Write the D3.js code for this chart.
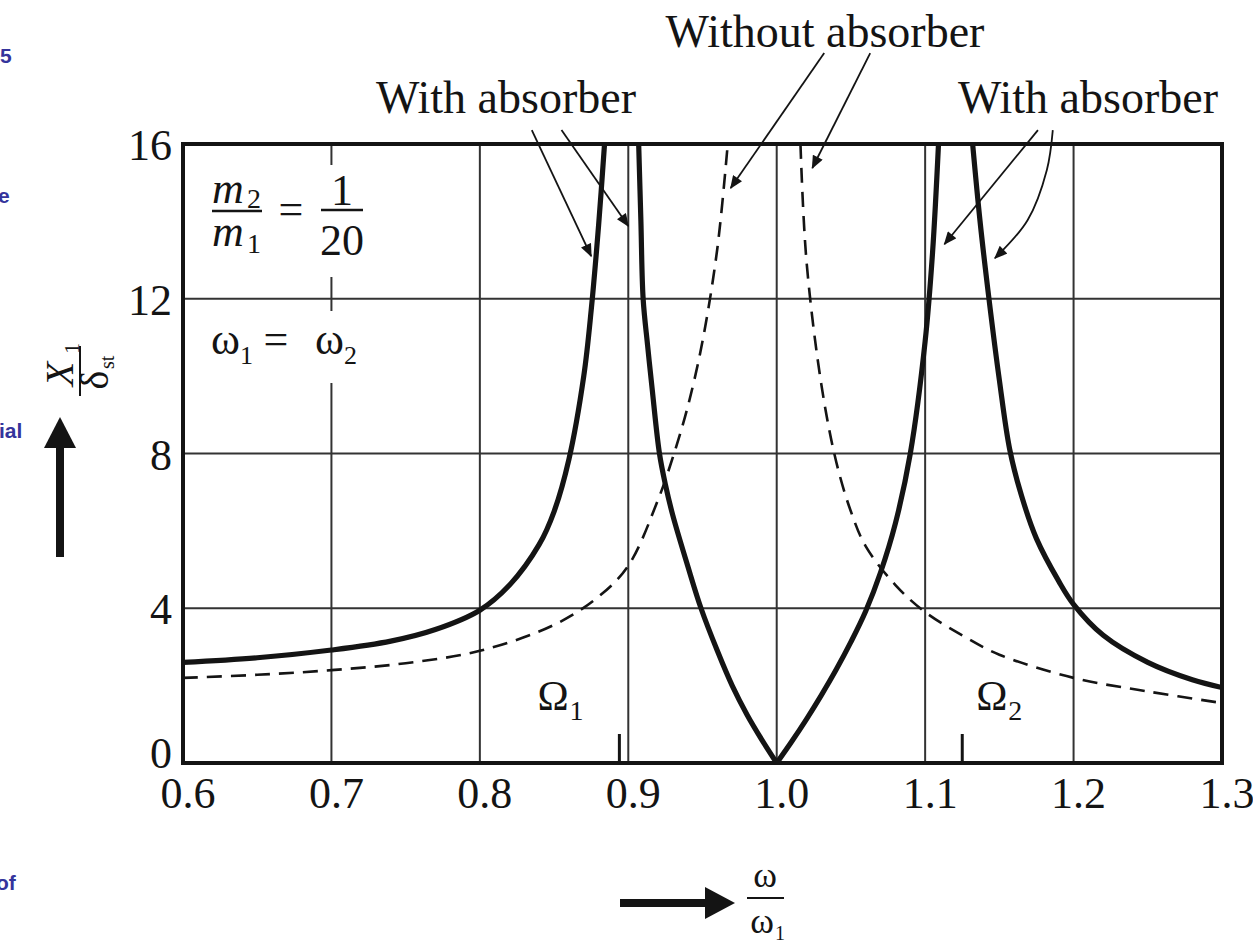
<!DOCTYPE html>
<html lang="en">
<head>
<meta charset="UTF-8">
<title>Dynamic vibration absorber</title>
<script src="https://d3js.org/d3.v7.min.js"></script>
<style>
  body { margin: 0; background: #fff; }
  svg { display: block; }
  text { font-family: "Liberation Serif", "Times New Roman", serif; fill: #141414; }
  .side { font-family: "Liberation Sans", Arial, sans-serif; fill: #34349c; font-size: 21px; font-weight: bold; }
</style>
</head>
<body>
<svg width="1253" height="943"></svg>
<script>
// axis ticks
const xTicks = [0.6, 0.7, 0.8, 0.9, 1.0, 1.1, 1.2, 1.3];
const xTickLabels = ["0.6", "0.7", "0.8", "0.9", "1.0", "1.1", "1.2", "1.3"];
const yTicks = [0, 4, 8, 12, 16];
const yTickLabels = ["0", "4", "8", "12", "16"];
const omegaMarks = [0.894, 1.125]; // Omega1, Omega2

// with absorber (solid), [w/w1, X1/dst]
const withLeft = [[0.60, 2.6], [0.65, 2.72], [0.70, 2.92], [0.74, 3.15], [0.77, 3.45], [0.80, 3.95],
  [0.82, 4.6], [0.84, 5.65], [0.85, 6.5], [0.86, 7.85], [0.87, 10.0], [0.875, 11.7], [0.88, 13.9], [0.884, 16]];
const withMidLeft = [[0.907, 16], [0.9085, 14], [0.910, 12], [0.913, 10.8], [0.916, 9.7], [0.921, 8.0],
  [0.925, 7.2], [0.93, 6.4], [0.94, 5.1], [0.949, 4.0], [0.96, 2.9], [0.97, 2.0], [0.98, 1.25], [0.99, 0.6], [1.0, 0]];
const withMidRight = [[1.0, 0], [1.01, 0.55], [1.02, 1.13], [1.03, 1.75], [1.04, 2.41], [1.05, 3.13], [1.06, 3.93],
  [1.07, 4.93], [1.08, 6.2], [1.09, 8.0], [1.10, 10.9], [1.105, 13.2], [1.109, 16]];
const withRight = [[1.132, 16], [1.137, 14], [1.143, 12], [1.15, 9.9], [1.157, 8.1], [1.165, 6.9],
  [1.175, 5.8], [1.19, 4.7], [1.20, 4.1], [1.22, 3.3], [1.25, 2.6], [1.28, 2.15], [1.30, 1.95]];

// without absorber (dashed)
const withoutLeft = [[0.60, 2.2], [0.65, 2.28], [0.70, 2.4], [0.75, 2.58], [0.80, 2.9], [0.85, 3.57],
  [0.88, 4.3], [0.90, 5.1], [0.92, 6.8], [0.93, 7.9], [0.94, 9.2], [0.95, 10.9], [0.96, 13.3], [0.967, 16]];
const withoutRight = [[1.016, 16], [1.02, 13], [1.03, 9.8], [1.04, 7.8], [1.05, 6.5], [1.06, 5.6],
  [1.08, 4.6], [1.10, 3.9], [1.125, 3.3], [1.15, 2.8], [1.20, 2.2], [1.25, 1.85], [1.30, 1.55]];

// leader lines of the annotations, in data units
const leaders = [
  [[0.835, 16.36], [0.875, 13.1]],
  [[0.855, 16.36], [0.900, 13.88]],
  [[1.032, 18.35], [0.969, 14.86]],
  [[1.063, 18.35], [1.024, 15.38]],
  [[1.176, 16.36], [1.113, 13.41]],
  [[1.186, 16.36], [1.182, 15.33], [1.169, 14.03], [1.147, 13.05]]
];

const svg = d3.select("svg");
const margin = { top: 144, right: 31, bottom: 180, left: 183 };
const W = 1253, H = 943;

const x = d3.scaleLinear().domain([0.6, 1.3]).range([margin.left, W - margin.right]);
const y = d3.scaleLinear().domain([0, 16]).range([H - margin.bottom, margin.top]);

const ink = "#141414";

// grid
const grid = svg.append("g").attr("stroke", "#333").attr("stroke-width", 2);
grid.selectAll("line.v").data(xTicks.slice(1, -1)).enter().append("line")
  .attr("x1", d => x(d)).attr("x2", d => x(d))
  .attr("y1", y(0)).attr("y2", y(16));
grid.selectAll("line.h").data(yTicks.slice(1, -1)).enter().append("line")
  .attr("x1", x(0.6)).attr("x2", x(1.3))
  .attr("y1", d => y(d)).attr("y2", d => y(d));

// white patches behind the parameter labels
svg.append("rect").attr("x", 205).attr("y", 165).attr("width", 165).attr("height", 112).attr("fill", "#fff");
svg.append("rect").attr("x", 205).attr("y", 311).attr("width", 165).attr("height", 72).attr("fill", "#fff");

svg.append("clipPath").attr("id", "plot").append("rect")
  .attr("x", x(0.6)).attr("y", y(16) - 1).attr("width", x(1.3) - x(0.6)).attr("height", y(0) - y(16) + 2);

const line = d3.line().x(d => x(d[0])).y(d => y(d[1])).curve(d3.curveCatmullRom.alpha(0.5));

const curves = svg.append("g").attr("clip-path", "url(#plot)").attr("fill", "none");
[withoutLeft, withoutRight].forEach(s => {
  curves.append("path").attr("d", line(s))
    .attr("stroke", ink).attr("stroke-width", 2.6).attr("stroke-dasharray", "15,9");
});
[withLeft, withMidLeft, withMidRight, withRight].forEach(s => {
  curves.append("path").attr("d", line(s))
    .attr("stroke", ink).attr("stroke-width", 5.2);
});

// frame
svg.append("rect")
  .attr("x", x(0.6)).attr("y", y(16))
  .attr("width", x(1.3) - x(0.6)).attr("height", y(0) - y(16))
  .attr("fill", "none").attr("stroke", ink).attr("stroke-width", 4);

// Omega ticks
svg.selectAll("line.om").data(omegaMarks).enter().append("line")
  .attr("x1", d => x(d)).attr("x2", d => x(d))
  .attr("y1", y(0)).attr("y2", y(0.75))
  .attr("stroke", ink).attr("stroke-width", 3);

// tick labels
svg.selectAll("text.xt").data(xTicks).enter().append("text")
  .attr("x", d => x(d) + 5).attr("y", 808)
  .attr("text-anchor", "middle").attr("font-size", 44)
  .text((d, i) => xTickLabels[i]);
svg.selectAll("text.yt").data(yTicks).enter().append("text")
  .attr("x", 172).attr("y", d => y(d) + (d === 0 ? 5 : 16))
  .attr("text-anchor", "end").attr("font-size", 44)
  .text((d, i) => yTickLabels[i]);

// titles
svg.append("text").attr("x", 506).attr("y", 113).attr("text-anchor", "middle").attr("font-size", 46).text("With absorber");
svg.append("text").attr("x", 1088).attr("y", 113).attr("text-anchor", "middle").attr("font-size", 46).text("With absorber");
svg.append("text").attr("x", 825).attr("y", 47).attr("text-anchor", "middle").attr("font-size", 46).text("Without absorber");

// leader lines with arrowheads
svg.append("defs").append("marker")
  .attr("id", "head").attr("viewBox", "0 0 12 10").attr("refX", 11).attr("refY", 5)
  .attr("markerWidth", 14).attr("markerHeight", 11).attr("markerUnits", "userSpaceOnUse")
  .attr("orient", "auto")
  .append("path").attr("d", "M0,0 L12,5 L0,10 Z").attr("fill", ink);
const lead = d3.line().x(d => x(d[0])).y(d => y(d[1])).curve(d3.curveCatmullRom);
svg.append("g").selectAll("path").data(leaders).enter().append("path")
  .attr("d", lead).attr("fill", "none").attr("stroke", ink).attr("stroke-width", 1.8)
  .attr("marker-end", "url(#head)");

// m2/m1 = 1/20
const p = svg.append("g").attr("font-size", 44);
p.append("text").attr("x", 212).attr("y", 203).attr("font-style", "italic").text("m");
p.append("text").attr("x", 247).attr("y", 208).attr("font-size", 28).text("2");
p.append("line").attr("x1", 212).attr("x2", 262).attr("y1", 211).attr("y2", 211).attr("stroke", ink).attr("stroke-width", 2.5);
p.append("text").attr("x", 212).attr("y", 246).attr("font-style", "italic").text("m");
p.append("text").attr("x", 247).attr("y", 253).attr("font-size", 28).text("1");
p.append("text").attr("x", 291).attr("y", 224).attr("text-anchor", "middle").text("=");
p.append("text").attr("x", 342).attr("y", 205).attr("text-anchor", "middle").text("1");
p.append("line").attr("x1", 321).attr("x2", 363).attr("y1", 210).attr("y2", 210).attr("stroke", ink).attr("stroke-width", 2.5);
p.append("text").attr("x", 342).attr("y", 255).attr("text-anchor", "middle").text("20");

// w1 = w2
const q = svg.append("g").attr("font-size", 44);
q.append("text").attr("x", 211).attr("y", 354).text("ω");
q.append("text").attr("x", 240).attr("y", 364).attr("font-size", 26).text("1");
q.append("text").attr("x", 276).attr("y", 354).attr("text-anchor", "middle").text("=");
q.append("text").attr("x", 315).attr("y", 354).text("ω");
q.append("text").attr("x", 344).attr("y", 364).attr("font-size", 26).text("2");

// Omega labels
[[0.894, "1"], [1.125, "2"]].forEach(([w, s], i) => {
  const cx = i === 0 ? x(w) - 82 : x(w) + 14;
  svg.append("text").attr("x", cx).attr("y", 710).attr("font-size", 42).text("Ω");
  svg.append("text").attr("x", cx + 32).attr("y", 720).attr("font-size", 28).text(s);
});

// y axis label and arrow
const yl = svg.append("g").attr("transform", "translate(80,372) rotate(-90)");
yl.append("text").attr("x", -2).attr("y", -7).attr("text-anchor", "middle").attr("font-size", 40).attr("font-style", "italic").text("X");
yl.append("text").attr("x", 18).attr("y", -1).attr("font-size", 22).text("1");
yl.append("line").attr("x1", -24).attr("x2", 26).attr("y1", 0).attr("y2", 0).attr("stroke", ink).attr("stroke-width", 2);
yl.append("text").attr("x", -8).attr("y", 28).attr("text-anchor", "middle").attr("font-size", 40).text("δ");
yl.append("text").attr("x", 3).attr("y", 34).attr("font-size", 20).text("st");

svg.append("line").attr("x1", 60).attr("x2", 60).attr("y1", 557).attr("y2", 440).attr("stroke", ink).attr("stroke-width", 8);
svg.append("path").attr("d", "M44,448 L60,417 L76,448 Z").attr("fill", ink);

// x axis label and arrow
svg.append("line").attr("x1", 620).attr("x2", 712).attr("y1", 903).attr("y2", 903).attr("stroke", ink).attr("stroke-width", 8);
svg.append("path").attr("d", "M705,887 L735,903 L705,919 Z").attr("fill", ink);
svg.append("text").attr("x", 765).attr("y", 887).attr("text-anchor", "middle").attr("font-size", 36).text("ω");
svg.append("line").attr("x1", 747).attr("x2", 784).attr("y1", 898).attr("y2", 898).attr("stroke", ink).attr("stroke-width", 2);
svg.append("text").attr("x", 762).attr("y", 933).attr("text-anchor", "middle").attr("font-size", 36).text("ω");
svg.append("text").attr("x", 775).attr("y", 940).attr("font-size", 20).text("1");

// cropped page text at the left edge
svg.append("text").attr("class", "side").attr("x", 0).attr("y", 63).text("5");
svg.append("text").attr("class", "side").attr("x", -2).attr("y", 203).text("e");
svg.append("text").attr("class", "side").attr("x", -1).attr("y", 438).text("ial");
svg.append("text").attr("class", "side").attr("x", -4).attr("y", 890).text("of");
</script>
</body>
</html>
